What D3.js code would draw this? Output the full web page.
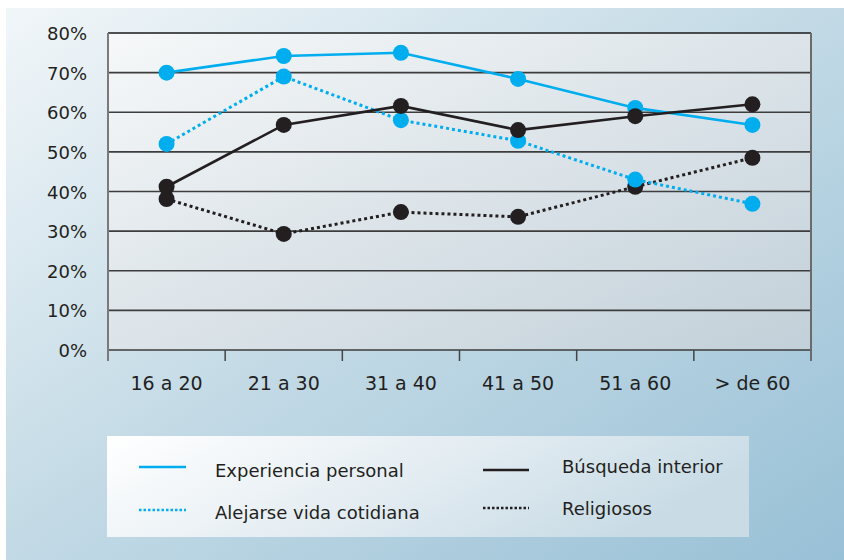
<!DOCTYPE html>
<html><head><meta charset="utf-8">
<script src="https://cdn.jsdelivr.net/npm/d3@7"></script>
<style>body{margin:0;background:#fff}svg{display:block}</style>
</head><body>
<script>
const categories = ["16 a 20","21 a 30","31 a 40","41 a 50","51 a 60","> de 60"];
const experiencia = [70, 74.2, 75, 68.4, 61.1, 56.8];
const alejarse = [52, 69, 58, 52.8, 43, 36.9];
const busqueda = [41.2, 56.8, 61.6, 55.5, 59, 62];
const religiosos = [38.1, 29.3, 34.8, 33.6, 41.2, 48.5];
const yTicks = [0,10,20,30,40,50,60,70,80];
const seriesNames = ["Experiencia personal","Alejarse vida cotidiana","Búsqueda interior","Religiosos"];

const W=844,H=560;
const svg=d3.select("body").append("svg").attr("width",W).attr("height",H);
const defs=svg.append("defs");
const g1=defs.append("linearGradient").attr("id","bg").attr("x1","0").attr("y1","0").attr("x2","1").attr("y2","1");
g1.append("stop").attr("offset","0").attr("stop-color","#f1f6f9");
g1.append("stop").attr("offset","0.45").attr("stop-color","#c6dce7");
g1.append("stop").attr("offset","1").attr("stop-color","#98c0d6");
const g2=defs.append("linearGradient").attr("id","pbg").attr("x1","0").attr("y1","0").attr("x2","1").attr("y2","1");
g2.append("stop").attr("offset","0").attr("stop-color","#f6f8f9");
g2.append("stop").attr("offset","1").attr("stop-color","#c2d0d9");
const g3=defs.append("linearGradient").attr("id","lbg").attr("x1","0").attr("y1","0").attr("x2","1").attr("y2","0.3");
g3.append("stop").attr("offset","0").attr("stop-color","#ffffff");
g3.append("stop").attr("offset","0.5").attr("stop-color","#e6eef3");
g3.append("stop").attr("offset","1").attr("stop-color","#c9dce6");

svg.append("rect").attr("x",6).attr("y",8).attr("width",W-6).attr("height",H-8).attr("fill","url(#bg)");

const L=108,R=811,T=33,B=350;
const x=d3.scaleBand().domain(categories).range([L,R]);
const y=d3.scaleLinear().domain([0,80]).range([B,T]);
const font="'DejaVu Sans', Verdana, sans-serif";

svg.append("rect").attr("x",L).attr("y",T).attr("width",R-L).attr("height",B-T).attr("fill","url(#pbg)");

svg.append("g").selectAll("line").data(yTicks).join("line")
 .attr("x1",L).attr("x2",R).attr("y1",d=>y(d)).attr("y2",d=>y(d))
 .attr("stroke",d=>d===80?"#1a1a1a":"#3d3d3d").attr("stroke-width",1.6);
svg.append("line").attr("x1",R).attr("x2",R).attr("y1",T).attr("y2",B+11).attr("stroke","#6b6b6b").attr("stroke-width",2);
svg.append("line").attr("x1",L).attr("x2",L).attr("y1",T).attr("y2",B+11).attr("stroke","#7a7a7a").attr("stroke-width",2);
const bounds=categories.slice(1).map(c=>x(c));
svg.append("g").selectAll("line").data(bounds).join("line")
 .attr("x1",d=>d).attr("x2",d=>d).attr("y1",B).attr("y2",B+11).attr("stroke","#444").attr("stroke-width",1.5);

svg.append("g").selectAll("text").data(yTicks).join("text")
 .attr("x",87).attr("y",d=>y(d)+7).attr("text-anchor","end")
 .attr("font-family",font).attr("font-size",18).attr("fill","#231f20").text(d=>d+"%");
svg.append("g").selectAll("text").data(categories).join("text")
 .attr("x",d=>x(d)+x.bandwidth()/2).attr("y",390).attr("text-anchor","middle")
 .attr("font-family",font).attr("font-size",19).attr("fill","#231f20").text(d=>d);

const cyan="#00aeef", blk="#231f20";
const styles=[{c:cyan,d:null},{c:cyan,d:"3,3"},{c:blk,d:null},{c:blk,d:"3,3"}];
const data=[experiencia,alejarse,busqueda,religiosos];
const line=d3.line().x((d,i)=>x(categories[i])+x.bandwidth()/2).y(d=>y(d));
const order=[3,1,0,2];
order.forEach(k=>{
  svg.append("path").attr("d",line(data[k])).attr("fill","none").attr("stroke",styles[k].c)
   .attr("stroke-width",k%2?3:2.6).attr("stroke-dasharray",styles[k].d);
});
order.forEach(k=>{
  svg.append("g").selectAll("circle").data(data[k]).join("circle")
   .attr("cx",(d,i)=>x(categories[i])+x.bandwidth()/2).attr("cy",d=>y(d)).attr("r",8).attr("fill",styles[k].c);
});

svg.append("rect").attr("x",107).attr("y",436).attr("width",642).attr("height",101).attr("fill","url(#lbg)");
const leg=[{x1:139,x2:186,ly:467,tx:215,ty:477},{x1:139,x2:186,ly:510,tx:215,ty:519},{x1:483,x2:529,ly:470,tx:562,ty:473},{x1:483,x2:529,ly:508,tx:562,ty:515}];
leg.forEach((p,k)=>{
  svg.append("line").attr("x1",p.x1).attr("x2",p.x2).attr("y1",p.ly).attr("y2",p.ly)
   .attr("stroke",styles[k].c).attr("stroke-width",k%2?2.5:2.6).attr("stroke-dasharray",k%2?"2.5,2":null);
  svg.append("text").attr("x",p.tx).attr("y",p.ty).attr("font-family",font).attr("font-size",18)
   .attr("fill","#231f20").text(seriesNames[k]);
});
</script>
</body></html>
